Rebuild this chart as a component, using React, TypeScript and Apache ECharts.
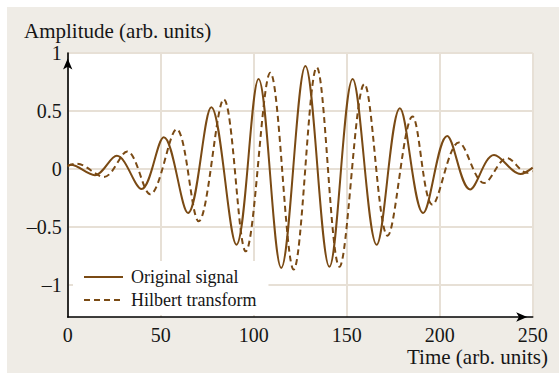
import React, { useEffect, useRef } from "react";
import * as echarts from "echarts";

// Extrema (and end points): [time, amplitude]
const originalSignal: [number, number][] = [
  [0, 0.02], [1.5, 0.034], [14.6, -0.055], [26.4, 0.112], [39.7, -0.175],
  [51.7, 0.273], [64.7, -0.382], [77.2, 0.532], [90.7, -0.655], [102.6, 0.776],
  [114.8, -0.856], [127.8, 0.888], [140.7, -0.847], [153.2, 0.776], [166.1, -0.655],
  [178.6, 0.523], [191.1, -0.382], [204.0, 0.284], [216.3, -0.178], [229.2, 0.119],
  [243.5, -0.045], [250, 0.01],
];

const hilbertTransform: [number, number][] = [
  [0, 0.026], [4.8, 0.044], [19.5, -0.07], [32.0, 0.15], [44.3, -0.22],
  [58.5, 0.342], [70.4, -0.454], [83.9, 0.601], [95.7, -0.713], [108.9, 0.83],
  [121.5, -0.87], [133.9, 0.876], [146.1, -0.847], [159.5, 0.733], [172.0, -0.578],
  [185.4, 0.451], [196.1, -0.31], [210.3, 0.227], [223.9, -0.123], [236.2, 0.092],
  [247.0, -0.035], [250, -0.02],
];

const seriesNames = ["Original signal", "Hilbert transform"];
const yTickValues = [-1, -0.5, 0, 0.5, 1];
const xMin = 0;
const xMax = 250;
const xInterval = 50;
const yMin = -1.28;
const yMax = 1;
const yTitle = "Amplitude (arb. units)";
const xTitle = "Time (arb. units)";

const FONT = "'Liberation Serif', 'Times New Roman', serif";
const BROWN = "#7a4a14";
const GRIDC = "#e7e0d6";
const BG = "#efece6";
const TEXT = "#161616";

export default function App() {
  const ref = useRef<HTMLDivElement>(null);
  useEffect(() => {
    const chart = echarts.init(ref.current!, null, { renderer: "svg" });
    chart.setOption({
      animation: false,
      backgroundColor: BG,
      textStyle: { fontFamily: FONT },
      graphic: [
        { type: "rect", shape: { x: 0, y: 0, width: 559, height: 7 }, style: { fill: "#fff" }, silent: true },
        { type: "rect", shape: { x: 0, y: 0, width: 7, height: 373 }, style: { fill: "#fff" }, silent: true },
        {
          type: "text", left: 24, top: 20,
          style: { text: yTitle, font: `21px ${FONT}`, fill: TEXT },
        },
        {
          type: "text", right: 11, top: 346,
          style: { text: xTitle, font: `21px ${FONT}`, fill: TEXT },
        },
      ],
      grid: {
        left: 67.7, right: 26.3, top: 53, bottom: 56,
        show: true, backgroundColor: "#fff", borderWidth: 0,
      },
      legend: {
        data: seriesNames,
        orient: "vertical",
        left: 73, top: 261,
        padding: [7, 12, 6, 10],
        itemWidth: 39, itemHeight: 14, itemGap: 5,
        backgroundColor: "#fff",
        selectedMode: false,
        itemStyle: { opacity: 0 },
        textStyle: { fontFamily: FONT, fontSize: 18, color: TEXT, padding: [0, 0, 0, 3] },
      },
      xAxis: {
        type: "value", min: xMin, max: xMax, interval: xInterval,
        axisLine: {
          show: true, onZero: false, symbol: ["none", "arrow"], symbolSize: [7, 11], symbolOffset: [0, -5.5],
          lineStyle: { color: "#000", width: 1.6 },
        },
        axisTick: { show: false },
        axisLabel: { fontFamily: FONT, fontSize: 20, color: TEXT, margin: 8 },
        splitLine: { show: true, lineStyle: { color: GRIDC, width: 2 } },
      },
      yAxis: {
        type: "value", min: yMin, max: yMax,
        axisLine: {
          show: true, onZero: false, symbol: ["none", "arrow"], symbolSize: [7, 11], symbolOffset: [0, -5.5],
          lineStyle: { color: "#000", width: 1.6 },
        },
        axisTick: { show: false, customValues: yTickValues },
        axisLabel: {
          customValues: yTickValues,
          fontFamily: FONT, fontSize: 20, color: TEXT, margin: 6,
          formatter: (v: number) => String(v).replace("-", "\u2013"),
        },
        splitLine: { show: true, lineStyle: { color: GRIDC, width: 2 } },
      },
      series: [
        {
          name: seriesNames[0], type: "line", data: originalSignal,
          smooth: 0.35, symbol: "none",
          lineStyle: { color: BROWN, width: 2 }, itemStyle: { color: BROWN },
        },
        {
          name: seriesNames[1], type: "line", data: hilbertTransform,
          smooth: 0.35, symbol: "none",
          lineStyle: { color: BROWN, width: 2, type: [6, 4] }, itemStyle: { color: BROWN },
        },
      ],
    });
    return () => chart.dispose();
  }, []);
  return <div ref={ref} style={{ position: "fixed", left: 0, top: 0, width: 559, height: 373 }} />;
}
